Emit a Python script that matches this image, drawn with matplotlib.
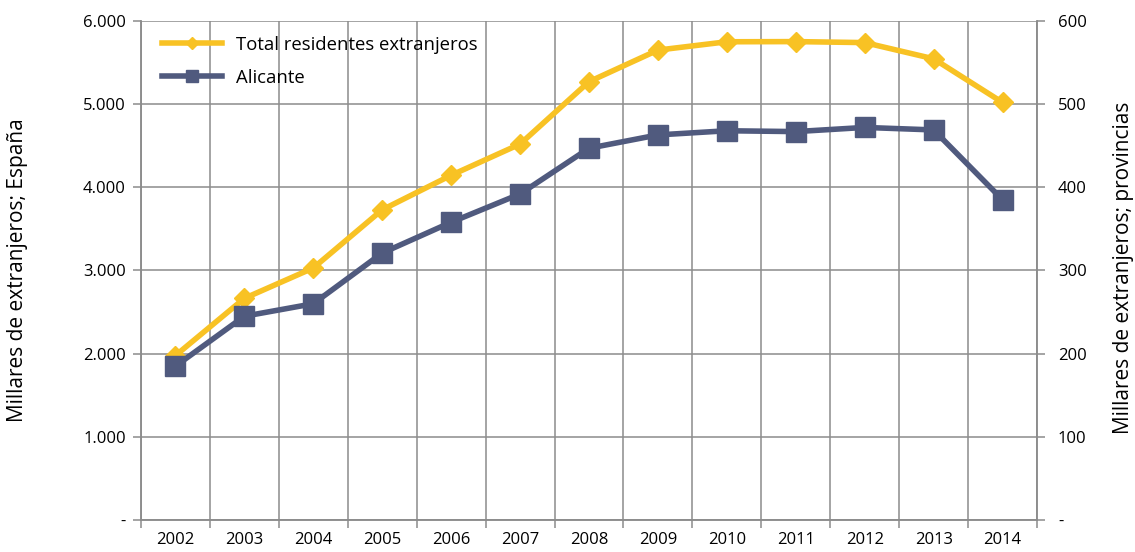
import numpy as np
import matplotlib.pyplot as plt
from matplotlib.lines import Line2D
from matplotlib.ticker import FuncFormatter, FixedLocator

plt.rcParams['font.family'] = ['Open Sans', 'DejaVu Sans']

# Datos
years = ['2002', '2003', '2004', '2005', '2006', '2007', '2008',
         '2009', '2010', '2011', '2012', '2013', '2014']
total_espana = [1977, 2665, 3030, 3730, 4145, 4520, 5270,
                5650, 5750, 5752, 5740, 5545, 5020]   # miles, eje izq.
alicante = [185, 245, 260, 321, 358, 392, 447,
            463, 468, 467, 472, 469, 385]             # miles, eje dcho.

yellow = '#F8C224'
navy = '#505A7E'
grid_c = '#8C8C8C'

def miles(v, pos):
    if v == 0:
        return '-'
    return f'{v:,.0f}'.replace(',', '.')

fig = plt.figure(figsize=(11.35, 5.52), dpi=100)
ax = fig.add_axes([0.1242, 0.058, 0.7895, 0.904])
ax2 = ax.twinx()

x = np.arange(len(years))
ax.plot(x, total_espana, color=yellow, lw=4, marker='D', ms=10)
ax2.plot(x, alicante, color=navy, lw=4, marker='s', ms=14)

ax.set_xlim(-0.5, len(years) - 0.5)
ax.set_ylim(0, 6000)
ax2.set_ylim(0, 600)
ax.set_yticks(np.arange(0, 6001, 1000))
ax2.set_yticks(np.arange(0, 601, 100))
ax.yaxis.set_major_formatter(FuncFormatter(miles))
ax2.yaxis.set_major_formatter(FuncFormatter(miles))

ax.set_xticks(x)
ax.set_xticklabels(years)
ax.xaxis.set_minor_locator(FixedLocator(np.arange(-0.5, len(years), 1)))
ax.tick_params(axis='x', which='major', length=0, pad=9, labelsize=12)
ax.tick_params(axis='x', which='minor', length=6, width=1.1, color=grid_c)
ax.tick_params(axis='y', length=6, width=1.1, color=grid_c, labelsize=12, pad=5)
ax2.tick_params(axis='y', length=6, width=1.1, color=grid_c, labelsize=12, pad=9)

ax.grid(True, which='minor', axis='x', color=grid_c, lw=1.1)
ax.grid(True, which='major', axis='y', color=grid_c, lw=1.1)
ax.set_axisbelow(True)

for a in (ax, ax2):
    for s in a.spines.values():
        s.set_color(grid_c)
        s.set_linewidth(1.1)
    a.spines['top'].set_visible(False)

fig.text(18 / 1135, 0.5 + (552 / 2 - 270) / 552, 'Millares de extranjeros; España',
         rotation=90, ha='center', va='center', fontsize=15)
fig.text(1123 / 1135, 0.5 + (552 / 2 - 268) / 552, 'Millares de extranjeros; provincias',
         rotation=90, ha='center', va='center', fontsize=15)

handles = [Line2D([], [], color=yellow, lw=4, marker='D', ms=6),
           Line2D([], [], color=navy, lw=4, marker='s', ms=8)]
ax2.legend(handles, ['Total residentes extranjeros', 'Alicante'],
           loc='upper left', frameon=False, fontsize=13.3,
           bbox_to_anchor=(0.024, 0.97), borderaxespad=0, borderpad=0,
           handlelength=3.2, handletextpad=0.8, labelspacing=0.8)

fig.savefig('out.png', dpi=100)
